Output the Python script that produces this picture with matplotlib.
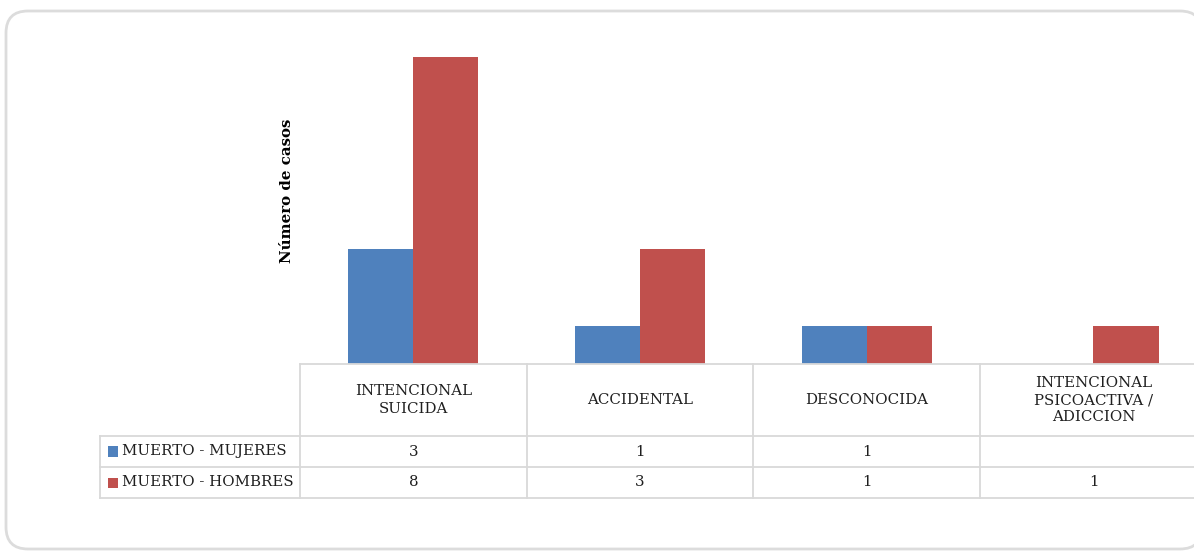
import matplotlib
matplotlib.use("Agg")
import matplotlib.pyplot as plt
from matplotlib.patches import FancyBboxPatch, Rectangle
from matplotlib.lines import Line2D
from matplotlib.transforms import blended_transform_factory
import numpy as np

categories = ["INTENCIONAL\nSUICIDA", "ACCIDENTAL", "DESCONOCIDA",
              "INTENCIONAL\nPSICOACTIVA /\nADICCION"]
series_names = ["MUERTO - MUJERES", "MUERTO - HOMBRES"]
mujeres = [3, 1, 1, None]
hombres = [8, 3, 1, 1]
colors = ["#4f81bd", "#c0504d"]
y_label = "Número de casos"

W, H = 1194, 551
DPI = 100
fig = plt.figure(figsize=(W / DPI, H / DPI), dpi=DPI)
fig.patch.set_facecolor("white")

FONT = "DejaVu Serif"
FS = 10.8
GRID = "#d9d9d9"


def fx(px):
    return px / W


def fy(py):
    # pixel from top -> figure fraction from bottom
    return 1 - py / H


# card outline (inch coordinates keep the corners circular)
card = FancyBboxPatch((6 / DPI, (H - 549) / DPI), (1202 - 6) / DPI, (549 - 11) / DPI,
                      boxstyle="round,pad=0,rounding_size=0.22",
                      transform=fig.dpi_scale_trans, facecolor="white",
                      edgecolor="#dcdcdc", linewidth=2, zorder=-5)
fig.add_artist(card)

# plot area
left_px, right_px = 300, 1194
base_px, top_px = 364, 20
cat_w = 226.7
ax = fig.add_axes([fx(left_px), fy(base_px), fx(right_px - left_px),
                   fy(top_px) - fy(base_px)])
ax.set_xlim(-0.5, -0.5 + (right_px - left_px) / cat_w)
ax.set_ylim(0, (base_px - top_px) / 38.4)
ax.axis("off")

x = np.arange(len(categories))
bw = 0.287
m_vals = [np.nan if v is None else v for v in mujeres]
ax.bar(x - bw / 2, m_vals, width=bw, color=colors[0], clip_on=False)
ax.bar(x + bw / 2, hombres, width=bw, color=colors[1], clip_on=False)

ax.text(-0.5 - 13 / cat_w, 4.5, y_label, rotation=90, ha="center", va="center",
        fontsize=10.8, fontweight="bold", family=FONT)

# data table below the plot area
tr = blended_transform_factory(ax.transData, fig.transFigure)
label_left = -0.5 - 200 / cat_w
row_tops = [364, 436, 467, 498]
x_end = len(categories) - 0.5 + 0.2


def hline(x0, x1, ypx):
    fig.add_artist(Line2D([x0, x1], [fy(ypx), fy(ypx)], transform=tr,
                          color=GRID, lw=1.3))


def vline(xd, y0, y1):
    fig.add_artist(Line2D([xd, xd], [fy(y0), fy(y1)], transform=tr,
                          color=GRID, lw=1.3))


hline(-0.5, x_end, row_tops[0])
for ypx in row_tops[1:]:
    hline(label_left, x_end, ypx)
vline(label_left, row_tops[1], row_tops[3])
for b in np.arange(len(categories) + 1) - 0.5:
    vline(b, row_tops[0], row_tops[3])

for i, c in enumerate(categories):
    fig.text(i, fy((row_tops[0] + row_tops[1]) / 2), c, transform=tr,
             ha="center", va="center", fontsize=FS, family=FONT,
             color="#1f1f1f", linespacing=1.3)

for r, (name, vals, col) in enumerate(zip(series_names, [mujeres, hombres], colors)):
    yc = (row_tops[r + 1] + row_tops[r + 2]) / 2
    sq = Rectangle((label_left + 8 / cat_w, fy(yc + 5)), 10 / cat_w, fy(yc - 5) - fy(yc + 5),
                   transform=tr, facecolor=col, edgecolor="none")
    fig.add_artist(sq)
    fig.text(label_left + 22 / cat_w, fy(yc), name, transform=tr, ha="left",
             va="center", fontsize=FS, family=FONT, color="#1f1f1f")
    for i, v in enumerate(vals):
        if v is None:
            continue
        fig.text(i, fy(yc), str(v), transform=tr, ha="center", va="center",
                 fontsize=FS, family=FONT, color="#1f1f1f")

fig.savefig("out.png", dpi=DPI, facecolor="white")
